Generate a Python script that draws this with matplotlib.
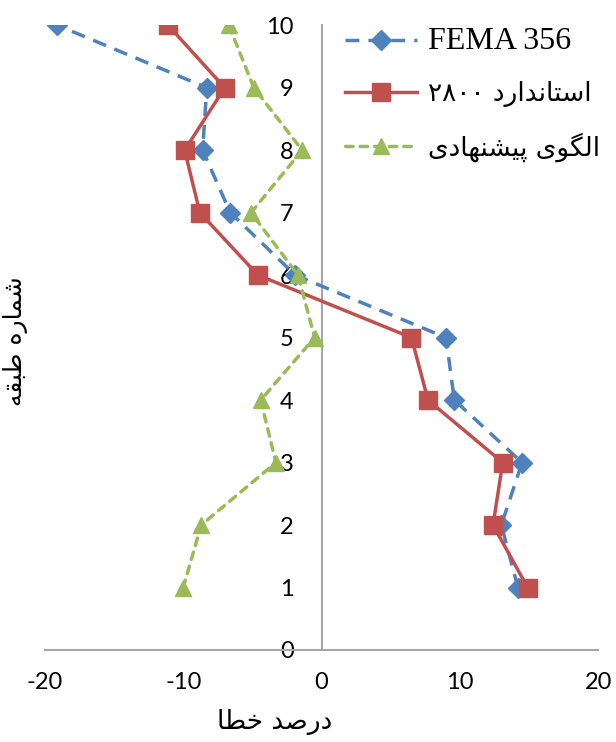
import numpy as np
import matplotlib
matplotlib.use("Agg")
import matplotlib.pyplot as plt

# story number (y) and error percentage per method (x)
floors = [1, 2, 3, 4, 5, 6, 7, 8, 9, 10]
fema356 = [14.2, 13.0, 14.5, 9.6, 9.0, -1.9, -6.6, -8.6, -8.3, -19.1]
std2800 = [14.9, 12.4, 13.1, 7.7, 6.5, -4.6, -8.8, -9.9, -7.0, -11.1]
proposed = [-10.0, -8.7, -3.3, -4.4, -0.5, -1.7, -5.1, -1.4, -4.9, -6.7]

x_ticks = [-20, -10, 0, 10, 20]
y_ticks = list(range(0, 11))

# Persian strings, pre-shaped (presentation forms) and in display order
lbl_fema = "FEMA 356"
lbl_2800 = "\u06F2\u06F8\u06F0\u06F0 \uFEA9\uFEAD\uFE8D\uFEAA\uFEE7\uFE8E\uFE98\uFEB3\uFE8D"
lbl_prop = ("\uFBFC\uFEA9\uFE8E\uFEEC\uFEE8\uFEB8\uFBFF\uFB58 "
            "\uFBFC\uFEEE\uFB95\uFEDF\uFE8D")
ylabel = "\uFEEA\uFED8\uFE92\uFEC3 \uFEE9\uFEAD\uFE8E\uFEE4\uFEB7"
xlabel = "\uFE8E\uFEC4\uFEA7 \uFEAA\uFEBB\uFEAD\uFEA9"

blue = "#4F81BD"
red = "#C0504D"
green = "#9BBB59"
gray = "#A6A6A6"

plt.rcParams['font.family'] = ['Lato', 'DejaVu Sans']
plt.rcParams['axes.unicode_minus'] = False

fig = plt.figure(figsize=(6.16, 7.42), dpi=100)
ax = fig.add_axes([0.073, 0.124, 0.898, 0.842])

ax.plot(fema356, floors, color=blue, lw=2.5, dashes=(4, 2.6),
        marker='D', ms=10, label=lbl_fema, zorder=3)
ax.plot(std2800, floors, color=red, lw=2.5, marker='s', ms=13,
        label=lbl_2800, zorder=4)
ax.plot(proposed, floors, color=green, lw=2.5, dashes=(2.2, 2.0),
        dash_capstyle='round', marker='^', ms=12, label=lbl_prop, zorder=5)

ax.set_xlim(-20, 20)
ax.set_ylim(0, 10)
ax.set_xticks(x_ticks)
ax.set_yticks(y_ticks)

for s in ['top', 'right']:
    ax.spines[s].set_visible(False)
ax.spines['left'].set_position(('data', 0))
ax.spines['left'].set_color(gray)
ax.spines['bottom'].set_color(gray)
ax.spines['left'].set_linewidth(1.5)
ax.spines['bottom'].set_linewidth(1.5)

ax.tick_params(axis='both', length=0, labelsize=17, colors='black')
ax.tick_params(axis='y', pad=20)
ax.tick_params(axis='x', pad=16)

fig.text(0.446, 0.027, xlabel, fontsize=19, family='DejaVu Sans',
         ha='center', va='center')
fig.text(0.025, 0.54, ylabel, fontsize=18, family='DejaVu Sans',
         rotation=90, ha='center', va='center')

leg = ax.legend(loc='upper left', bbox_to_anchor=(0.50, 1.035),
                frameon=False, fontsize=19, handlelength=2.7,
                handletextpad=0.45, labelspacing=0.95)
texts = leg.get_texts()
texts[0].set_family('Liberation Serif')
texts[0].set_fontsize(23)
for t in texts[1:]:
    t.set_family('DejaVu Sans')

fig.savefig("out.png", dpi=100)
